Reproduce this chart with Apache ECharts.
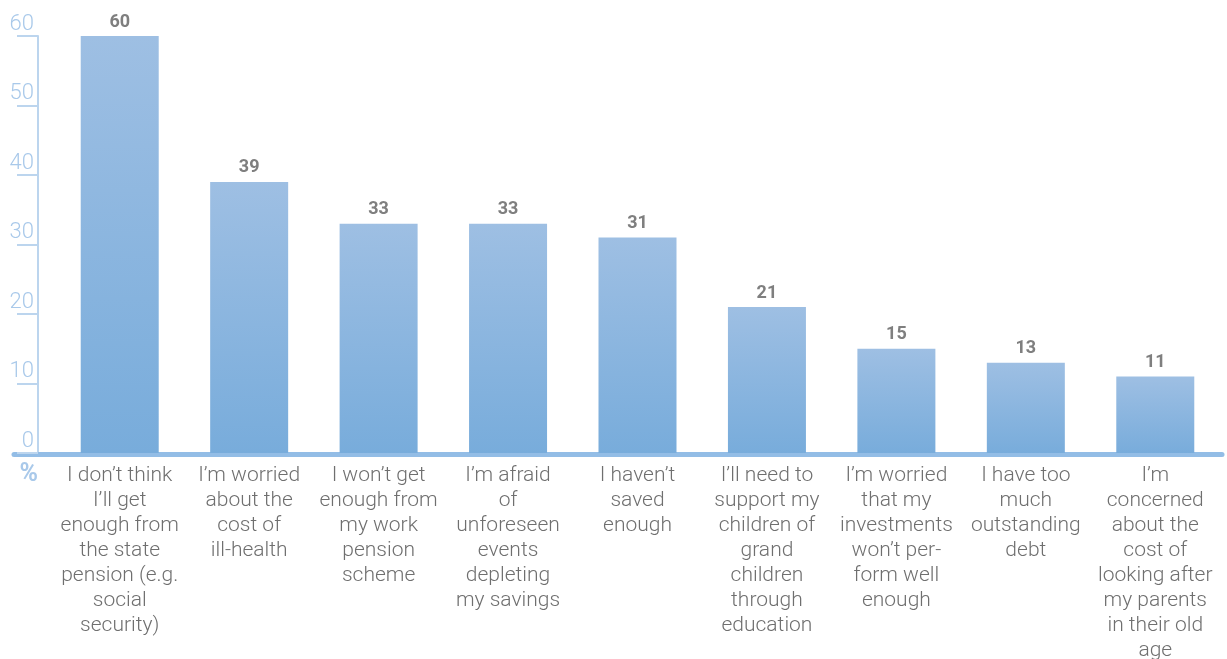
<!DOCTYPE html>
<html>
<head>
<meta charset="utf-8">
<script src="https://cdn.jsdelivr.net/npm/echarts@6/dist/echarts.min.js"></script>
<style>
    html, body { margin: 0; padding: 0; background: #fff; }
    #chart { width: 1227px; height: 659px; }
</style>
</head>
<body>
<div id="chart"></div>
<script>
// survey answers, one per bar (line breaks as in the original)
const categories = [
    'I don\u2019t think\nI\u2019ll get\nenough from\nthe state\npension (e.g.\nsocial\nsecurity)',
    'I\u2019m worried\nabout the\ncost of\nill-health',
    'I won\u2019t get\nenough from\nmy work\npension\nscheme',
    'I\u2019m afraid\nof\nunforeseen\nevents\ndepleting\nmy savings',
    'I haven\u2019t\nsaved\nenough',
    'I\u2019ll need to\nsupport my\nchildren of\ngrand\nchildren\nthrough\neducation',
    'I\u2019m worried\nthat my\ninvestments\nwon\u2019t per-\nform well\nenough',
    'I have too\nmuch\noutstanding\ndebt',
    'I\u2019m\nconcerned\nabout the\ncost of\nlooking after\nmy parents\nin their old\nage'
]
const values = [60, 39, 33, 33, 31, 21, 15, 13, 11]
const yTicks = [0, 10, 20, 30, 40, 50, 60]

const axisBlue = '#bcd5ee'
const labelBlue = '#a9c9ea'
const fontFamily = 'Roboto, "Liberation Sans", sans-serif'

const myChart = echarts.init(document.getElementById('chart'))

const option = {
    backgroundColor: '#fff',
    animation: false,
    grid: [
        // bars
        { left: 55, right: 7, top: 36, bottom: 206, outerBoundsMode: 'none', containLabel: false },
        // only the long baseline under the bars
        { left: 14, right: 5, top: 36, bottom: 204.5, outerBoundsMode: 'none', containLabel: false }
    ],
    xAxis: [
        {
            type: 'category',
            gridIndex: 0,
            data: categories,
            axisLine: { show: false },
            axisTick: { show: false },
            axisLabel: {
                interval: 0,
                margin: 10,
                color: '#6f6f6f',
                fontFamily: fontFamily,
                fontWeight: 300,
                fontSize: 21,
                lineHeight: 25
            }
        },
        {
            type: 'category',
            gridIndex: 1,
            data: [''],
            axisLine: {
                show: true,
                lineStyle: { color: '#93bde6', width: 5 }
            },
            axisTick: { show: false },
            axisLabel: { show: false }
        }
    ],
    yAxis: [
        {
            type: 'value',
            gridIndex: 0,
            min: yTicks[0],
            max: yTicks[yTicks.length - 1],
            interval: 10,
            offset: 17,
            name: '%',
            nameLocation: 'start',
            nameGap: 9,
            nameTextStyle: {
                color: labelBlue,
                fontFamily: fontFamily,
                fontWeight: 'bold',
                fontSize: 25,
                align: 'right',
                verticalAlign: 'top',
                padding: [0, 0, 0, 0]
            },
            axisLine: {
                show: true,
                lineStyle: { color: axisBlue, width: 2 }
            },
            axisTick: {
                show: true,
                length: 21,
                lineStyle: { color: axisBlue, width: 2 }
            },
            splitLine: { show: false },
            axisLabel: {
                margin: 4,
                color: labelBlue,
                fontFamily: fontFamily,
                fontWeight: 300,
                fontSize: 22,
                verticalAlign: 'bottom',
                padding: [0, 0, 1, 0]
            }
        },
        {
            type: 'value',
            gridIndex: 1,
            show: false
        }
    ],
    series: [
        {
            type: 'bar',
            xAxisIndex: 0,
            yAxisIndex: 0,
            barWidth: 78,
            data: values,
            itemStyle: {
                color: new echarts.graphic.LinearGradient(0, 0, 0, 1, [
                    { offset: 0, color: '#9ebfe3' },
                    { offset: 1, color: '#78acdb' }
                ])
            },
            label: {
                show: true,
                position: 'top',
                distance: 5,
                color: '#7f7f7f',
                fontFamily: fontFamily,
                fontWeight: 'bold',
                fontSize: 18
            }
        }
    ]
}
myChart.setOption(option)
</script>
</body>
</html>
